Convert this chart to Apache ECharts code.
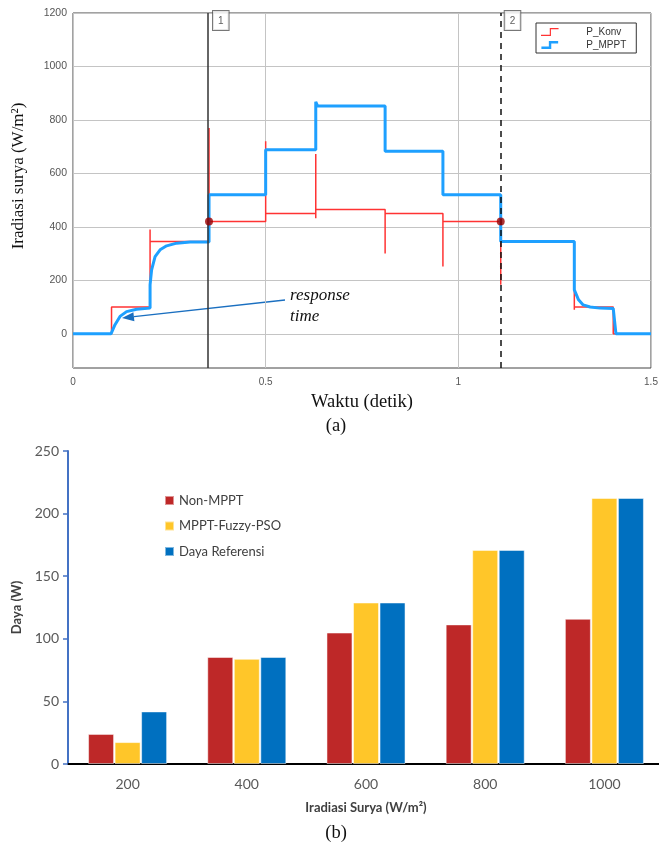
<!DOCTYPE html>
<html><head><meta charset="utf-8">
<script src="https://cdn.jsdelivr.net/npm/echarts@6/dist/echarts.min.js"></script>
<style>html,body{margin:0;padding:0;background:#fff}#c{width:659px;height:852px}</style>
</head><body><div id="c"></div>
<script>
// ---------- chart (a) data ----------
const konvTime  = [0, 0.1, 0.1, 0.2, 0.2, 0.2, 0.353, 0.353, 0.353, 0.5, 0.5, 0.5, 0.63, 0.63, 0.63, 0.63, 0.81, 0.81, 0.81, 0.96, 0.96, 0.96, 1.11, 1.11, 1.11, 1.301, 1.301, 1.301, 1.402, 1.402, 1.5];
const konvValue = [0, 0, 100, 100, 390, 345, 345, 770, 420, 420, 720, 450, 450, 432, 673, 465, 465, 300, 450, 450, 252, 420, 420, 183, 345, 345, 90, 100, 100, 0, 0];
const mpptTime  = [0, 0.0986, 0.109, 0.122, 0.139, 0.165, 0.2, 0.2, 0.204, 0.213, 0.226, 0.243, 0.269, 0.304, 0.353, 0.353, 0.5, 0.5, 0.63, 0.63, 0.635, 0.81, 0.81, 0.96, 0.96, 1.11, 1.11, 1.301, 1.301, 1.312, 1.324, 1.342, 1.368, 1.402, 1.409, 1.5];
const mpptValue = [0, 0, 34, 65, 83, 92, 96, 183, 239, 289, 314, 329, 339, 343, 343, 520, 520, 688, 688, 868, 852, 852, 683, 683, 520, 520, 345, 345, 164, 127, 108, 100, 96, 95, 0, 0];
const cursorTime  = [0.353, 1.11];
const cursorValue = [420, 420];
const cursorLabel = ['1', '2'];
const yTicksA = [0, 200, 400, 600, 800, 1000, 1200];

// ---------- chart (b) data ----------
const irradiance    = ['200', '400', '600', '800', '1000'];
const nonMppt       = [24, 85.5, 105, 111.5, 116];
const mpptFuzzyPso  = [17.5, 84, 129, 171, 212.5];
const dayaReferensi = [42, 85.5, 129, 171, 212.5];

const zip = (a, b) => a.map((v, i) => [v, b[i]]);

const chart = echarts.init(document.getElementById('c'), null, {renderer: 'canvas'});
const serif = '"Liberation Serif", "DejaVu Serif", serif';
const sans = '"Liberation Sans", Arial, sans-serif';
const cal = 'Lato, "Open Sans", sans-serif';

chart.setOption({
  animation: false,
  backgroundColor: '#fff',
  grid: [
    {left: 73, top: 13, width: 578, height: 355, show: true, borderColor: '#444', borderWidth: 1, backgroundColor: 'transparent', outerBoundsMode: 'none', containLabel: false},
    {left: 68, top: 451, width: 596, height: 313, outerBoundsMode: 'none', containLabel: false}
  ],
  legend: [
    {
      data: [
        {name: 'P_Konv', icon: 'path://M0,7 L9,7 L9,0 L18,0 L18,1.2 L10.2,1.2 L10.2,8.2 L0,8.2 Z'},
        {name: 'P_MPPT', icon: 'path://M0,6 L8,6 L8,0 L18,0 L18,2.6 L10.6,2.6 L10.6,8.6 L0,8.6 Z'}
      ],
      orient: 'vertical', left: 536, top: 23,
      padding: [4, 10, 3, 5], itemGap: 3, itemWidth: 19, itemHeight: 8,
      borderColor: '#333', borderWidth: 1, backgroundColor: '#fff', borderRadius: 0,
      textStyle: {fontSize: 10, fontFamily: sans, color: '#333', padding: [0, 0, 0, 22]}
    },
    {
      data: ['Non-MPPT', 'MPPT-Fuzzy-PSO', 'Daya Referensi'], orient: 'vertical', left: 159, top: 489,
      itemWidth: 9, itemHeight: 9, itemGap: 12.5, icon: 'rect',
      textStyle: {fontSize: 13, fontFamily: cal, color: '#404040'}
    }
  ],
  xAxis: [
    {
      gridIndex: 0, type: 'value', min: 0, max: 1.5, interval: 0.5,
      name: 'Waktu (detik)', nameLocation: 'middle', nameGap: 25,
      nameTextStyle: {fontFamily: serif, fontSize: 18.5, color: '#111'},
      axisLine: {show: false}, axisTick: {show: false},
      axisLabel: {fontSize: 10, fontFamily: sans, color: '#555', margin: 9, formatter: v => String(v)},
      splitLine: {show: true, lineStyle: {color: '#c4c4c4', width: 1}}
    },
    {
      gridIndex: 1, type: 'category', data: irradiance,
      name: 'Iradiasi Surya (W/m²)', nameLocation: 'middle', nameGap: 37,
      nameTextStyle: {fontFamily: cal, fontSize: 13, fontWeight: 'bold', color: '#404040'},
      axisLine: {show: true, lineStyle: {color: '#000', width: 2}}, axisTick: {show: false},
      axisLabel: {fontSize: 14, fontFamily: cal, color: '#595959', margin: 13}
    }
  ],
  yAxis: [
    {
      gridIndex: 0, type: 'value', min: -128, max: 1200,
      axisLine: {show: false},
      axisTick: {show: false, customValues: yTicksA},
      axisLabel: {fontSize: 10.5, fontFamily: sans, color: '#555', margin: 6, customValues: yTicksA, formatter: v => String(v)},
      splitLine: {show: true, lineStyle: {color: '#c4c4c4', width: 1}}
    },
    {
      gridIndex: 1, type: 'value', min: 0, max: 250, interval: 50,
      name: 'Daya (W)', nameLocation: 'middle', nameGap: 43,
      nameTextStyle: {fontFamily: cal, fontSize: 13, fontWeight: 'bold', color: '#404040'},
      axisLine: {show: true, lineStyle: {color: '#4472C4', width: 2}},
      axisTick: {show: true, length: 5, lineStyle: {color: '#4472C4', width: 1.5}},
      axisLabel: {fontSize: 14, fontFamily: cal, color: '#595959', margin: 9},
      splitLine: {show: false}
    }
  ],
  series: [
    {
      name: 'cursors', type: 'scatter', xAxisIndex: 0, yAxisIndex: 0, z: 1,
      data: cursorTime.map((t, i) => [t, 1200, cursorLabel[i]]), symbolSize: 0,
      label: {
        show: true, position: [4, -2], formatter: p => p.data[2],
        fontSize: 10, fontFamily: sans, color: '#333', backgroundColor: '#fff',
        borderColor: '#555', borderWidth: 1, padding: [5, 5, 4, 5]
      },
      markLine: {
        symbol: 'none', silent: true, label: {show: false},
        data: [
          {xAxis: cursorTime[0], lineStyle: {color: '#333', width: 1.5, type: 'solid'}},
          {xAxis: cursorTime[1], lineStyle: {color: '#111', width: 1.5, type: [6, 5]}}
        ]
      }
    },
    {
      name: 'P_Konv', type: 'line', xAxisIndex: 0, yAxisIndex: 0, z: 3,
      data: zip(konvTime, konvValue), showSymbol: false, symbol: 'none',
      lineStyle: {color: '#FF3333', width: 1.5}, itemStyle: {color: '#FF3333'}
    },
    {
      name: 'P_MPPT', type: 'line', xAxisIndex: 0, yAxisIndex: 0, z: 4,
      data: zip(mpptTime, mpptValue), showSymbol: false, symbol: 'none',
      lineStyle: {color: '#1EA0FF', width: 3}, itemStyle: {color: '#1EA0FF'}
    },
    {
      name: 'dots', type: 'scatter', xAxisIndex: 0, yAxisIndex: 0, z: 5,
      data: zip(cursorTime, cursorValue), symbolSize: 8,
      itemStyle: {color: '#9B0000'}
    },
    {
      name: 'Non-MPPT', type: 'bar', xAxisIndex: 1, yAxisIndex: 1, data: nonMppt,
      barWidth: 26, barGap: '2%', itemStyle: {color: '#BE2828', borderColor: 'rgba(255,255,255,0.5)', borderWidth: 1}
    },
    {
      name: 'MPPT-Fuzzy-PSO', type: 'bar', xAxisIndex: 1, yAxisIndex: 1, data: mpptFuzzyPso,
      barWidth: 26, barGap: '2%', itemStyle: {color: '#FFC629', borderColor: 'rgba(255,255,255,0.5)', borderWidth: 1}
    },
    {
      name: 'Daya Referensi', type: 'bar', xAxisIndex: 1, yAxisIndex: 1, data: dayaReferensi,
      barWidth: 26, barGap: '2%', itemStyle: {color: '#0070C0', borderColor: 'rgba(255,255,255,0.5)', borderWidth: 1}
    }
  ],
  graphic: [
    {type: 'text', x: 18.5, y: 176, rotation: Math.PI / 2,
     style: {text: 'Iradiasi surya (W/m²)', font: '17px ' + serif, fill: '#111', align: 'center', verticalAlign: 'middle'}},
    {type: 'text', left: 290, top: 287, style: {text: 'response', font: 'italic 17px ' + serif, fill: '#111'}},
    {type: 'text', left: 290, top: 308, style: {text: 'time', font: 'italic 17px ' + serif, fill: '#111'}},
    {type: 'line', shape: {x1: 285, y1: 300, x2: 134, y2: 316.7}, style: {stroke: '#1a6fc0', lineWidth: 1.3}},
    {type: 'polygon', shape: {points: [[122, 318], [134.4, 321.2], [133.4, 312.2]]}, style: {fill: '#1a6fc0'}},
    {type: 'text', x: 336, y: 426, style: {text: '(a)', font: '18.5px ' + serif, fill: '#111', align: 'center', verticalAlign: 'middle'}},
    {type: 'text', x: 336, y: 833, style: {text: '(b)', font: '18.5px ' + serif, fill: '#111', align: 'center', verticalAlign: 'middle'}}
  ]
});
</script>
</body></html>
